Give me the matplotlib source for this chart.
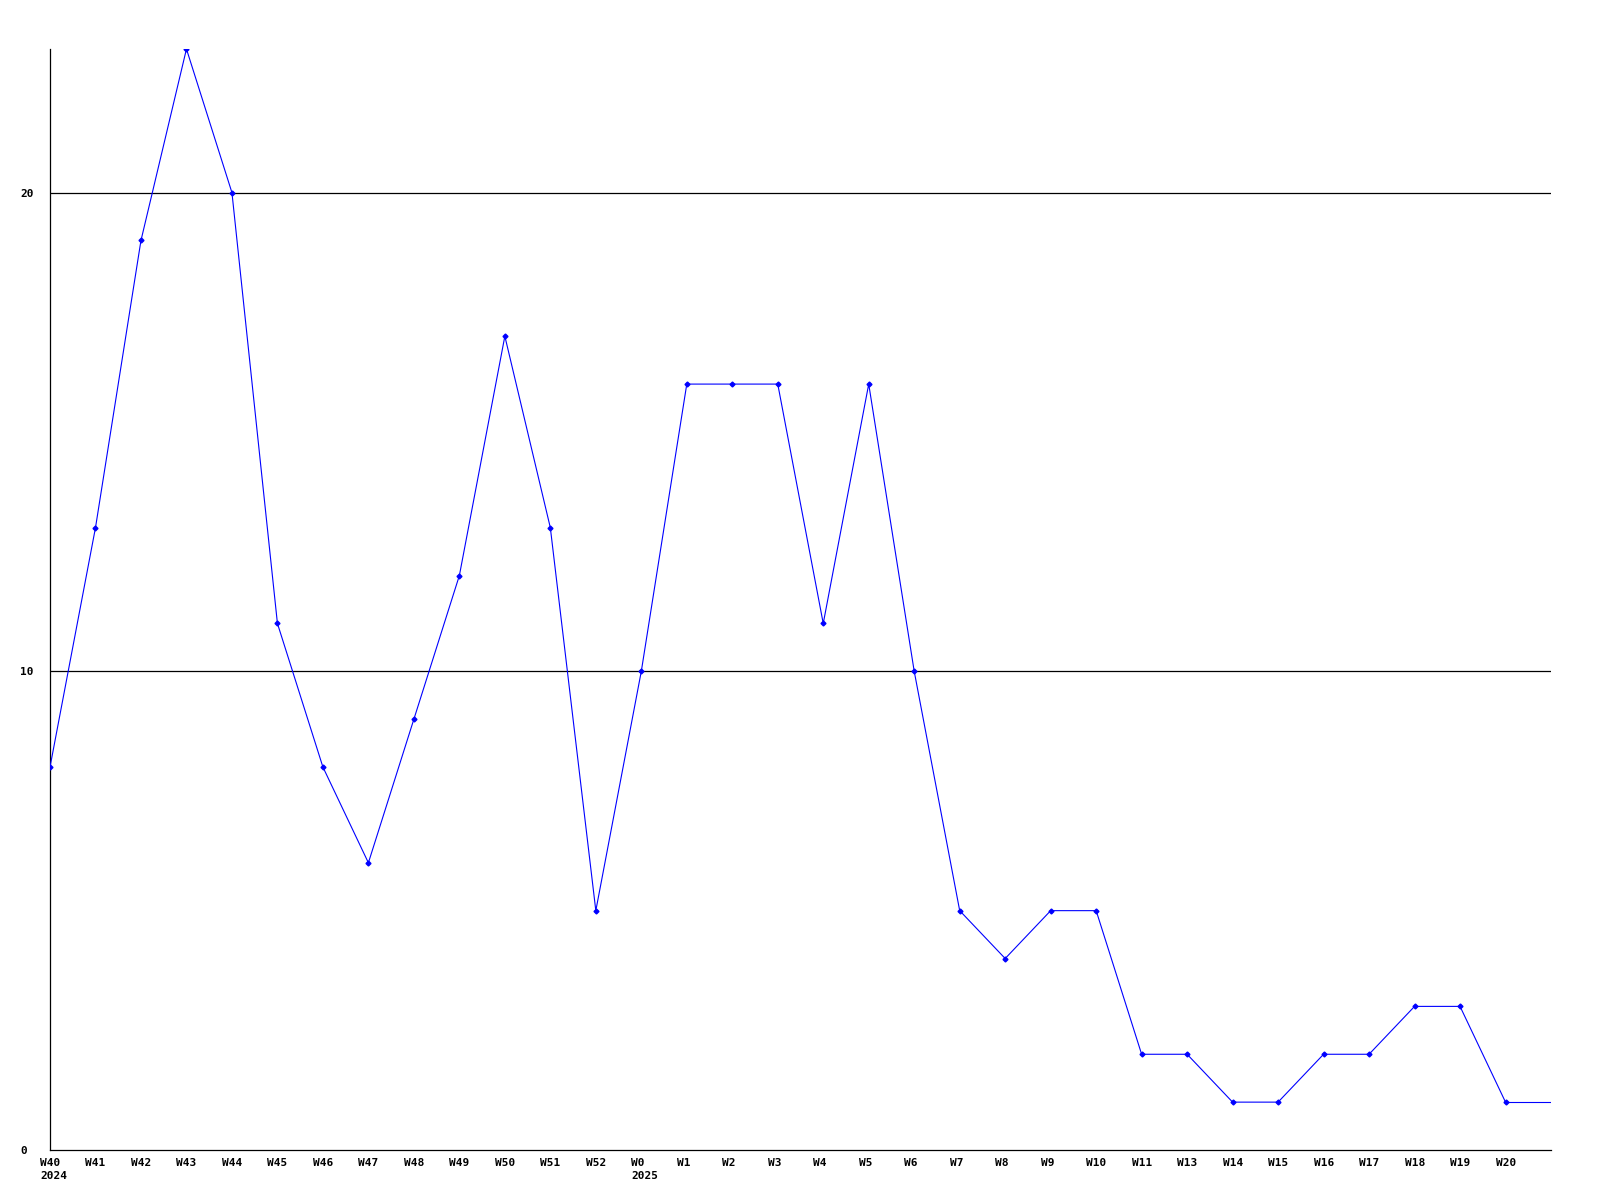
import numpy as np
import matplotlib.pyplot as plt
from matplotlib.transforms import ScaledTranslation

weeks = ['W40', 'W41', 'W42', 'W43', 'W44', 'W45', 'W46', 'W47', 'W48', 'W49',
         'W50', 'W51', 'W52', 'W0', 'W1', 'W2', 'W3', 'W4', 'W5', 'W6', 'W7',
         'W8', 'W9', 'W10', 'W11', 'W13', 'W14', 'W15', 'W16', 'W17', 'W18',
         'W19', 'W20']
years = {'W40': '2024', 'W0': '2025'}
counts = [8, 13, 19, 23, 20, 11, 8, 6, 9, 12, 17, 13, 5, 10, 16, 16, 16, 11,
          16, 10, 5, 4, 5, 5, 2, 2, 1, 1, 2, 2, 3, 3, 1]
y_ticks = [0, 10, 20]

x = np.arange(len(weeks))
n = len(weeks)

fig = plt.figure(figsize=(16, 12), dpi=100)
ax = fig.add_axes([50 / 1600, 50 / 1200, 1501 / 1600, 1101 / 1200])

for v in y_ticks[1:]:
    ax.axhline(v, color='black', linewidth=0.9, zorder=1)

ax.plot(x, counts, color='#0000ff', linewidth=0.8, marker='D', markersize=2.5,
        zorder=3)
# line runs on to the right edge at the last value
ax.plot([n - 1, n], [counts[-1], counts[-1]], color='#0000ff', linewidth=0.8,
        zorder=3)

ax.set_xlim(0, n)
ax.set_ylim(0, 23)

ax.spines['top'].set_visible(False)
ax.spines['right'].set_visible(False)
for s in ['left', 'bottom']:
    ax.spines[s].set_linewidth(0.9)
    ax.spines[s].set_color('black')

labels = [w + ('\n' + years[w] if w in years else '') for w in weeks]
ax.set_xticks(x)
ax.set_xticklabels(labels, ha='left', va='top', multialignment='left',
                   fontfamily='DejaVu Sans Mono', fontweight='bold', fontsize=8,
                   linespacing=1.35)
ax.set_yticks(y_ticks)
ax.set_yticklabels([str(v) for v in y_ticks], ha='left',
                   fontfamily='DejaVu Sans Mono', fontweight='bold', fontsize=8)
ax.tick_params(axis='x', length=0, pad=6)
ax.tick_params(axis='y', length=0, pad=0)

offset = ScaledTranslation(-10 / 100, 0, fig.dpi_scale_trans)
for lab in ax.get_xticklabels():
    lab.set_transform(lab.get_transform() + offset)
yoff = ScaledTranslation(-30 / 100, 0, fig.dpi_scale_trans)
for lab in ax.get_yticklabels():
    lab.set_transform(lab.get_transform() + yoff)

fig.savefig('out.png', dpi=100, facecolor='white')
